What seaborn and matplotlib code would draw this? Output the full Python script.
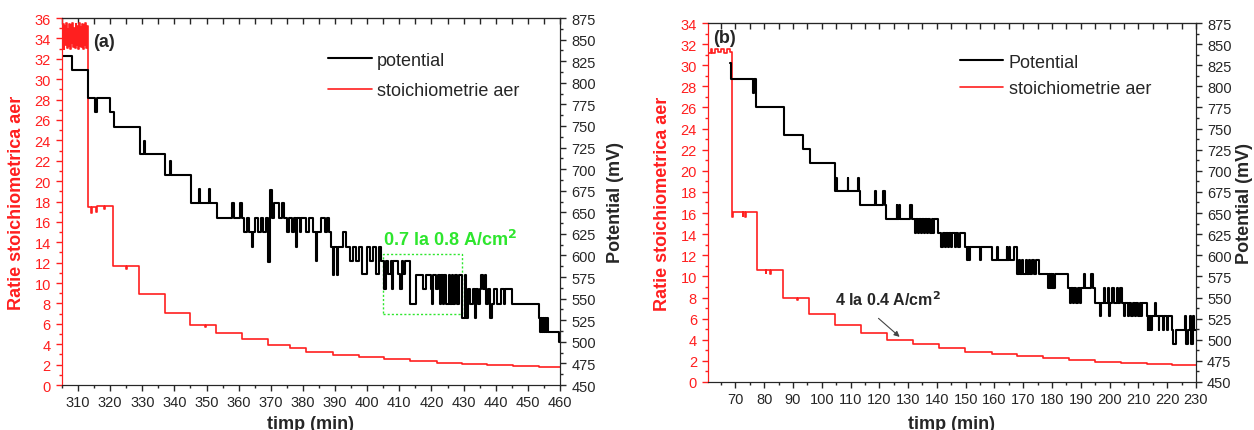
import pandas as pd
import seaborn as sns
import matplotlib.pyplot as plt
from matplotlib.lines import Line2D
from matplotlib.patches import Rectangle
from matplotlib.ticker import MultipleLocator

# ---- data (time in min, step values) ----
# panel (a): stoichiometry (left axis)
a_stoi = [(305.0, 33.2), (305.25, 35.4), (305.5, 33.0), (305.75, 35.2), (306.0, 33.4),
          (306.25, 35.5), (306.5, 33.1), (306.75, 34.9), (307.0, 33.3), (307.25, 35.4),
          (307.5, 33.0), (307.75, 35.3), (308.0, 33.5), (308.25, 35.5), (308.5, 33.2),
          (308.75, 35.0), (309.0, 33.1), (309.25, 35.4), (309.5, 33.4), (309.75, 35.2),
          (310.0, 33.0), (310.25, 35.5), (310.5, 33.3), (310.75, 35.1), (311.0, 33.2),
          (311.25, 35.4), (311.5, 33.0), (311.75, 35.3), (312.0, 33.4), (312.25, 35.5),
          (312.5, 33.1), (312.75, 35.2), (313.0, 17.5), (314.0, 16.9), (314.3, 17.5),
          (315.6, 17.0), (315.9, 17.6), (318.0, 17.3), (318.3, 17.6), (321.0, 11.7),
          (324.8, 11.4), (325.1, 11.7), (329.0, 8.9), (337.0, 7.1), (345.0, 5.9),
          (349.5, 5.7), (349.8, 5.9), (353.0, 5.1), (361.0, 4.5), (369.0, 3.9),
          (376.0, 3.6), (381.0, 3.2), (389.3, 2.97), (397.5, 2.75), (405.2, 2.52),
          (413.2, 2.36), (421.6, 2.2), (429.4, 2.06), (437.2, 1.96), (445.5, 1.86),
          (453.3, 1.77), (460.0, 1.77)]

# panel (a): potential in mV (right axis)
a_pot = [(305.0, 831), (308.0, 815), (313.0, 782), (315.4, 766), (315.8, 782), (320.0, 766),
         (321.3, 749), (329.2, 717), (330.5, 733), (330.9, 717), (337.0, 693), (338.6, 709),
         (339.0, 693), (345.3, 661), (347.6, 677), (348.0, 661), (350.7, 677), (351.1, 661),
         (353.2, 643), (358.0, 661), (358.4, 643), (360.5, 661), (360.9, 643), (361.7, 627),
         (362.5, 643), (363.2, 627), (364.0, 610), (364.5, 627), (365.2, 643), (366.0, 627),
         (366.8, 643), (367.6, 627), (368.5, 643), (369.2, 592), (369.8, 676), (370.3, 643),
         (371.0, 661), (372.5, 643), (373.5, 661), (374.2, 643), (375.0, 627), (375.6, 643),
         (376.5, 627), (377.2, 643), (377.8, 610), (378.2, 643), (379.0, 627), (379.5, 643),
         (381.0, 627), (382.0, 643), (383.0, 627), (384.0, 594), (384.4, 627), (385.5, 643),
         (386.8, 627), (387.5, 643), (388.0, 627), (388.8, 610), (389.3, 577), (389.8, 610),
         (390.5, 577), (391.0, 610), (392.4, 627), (393.5, 610), (394.5, 594), (395.5, 610),
         (396.5, 594), (397.3, 610), (398.5, 578), (400.0, 610), (401.0, 594), (401.8, 610),
         (402.8, 578), (403.6, 610), (404.4, 594), (405.3, 561), (405.7, 594), (406.5, 578),
         (407.3, 594), (407.6, 561), (408.0, 594), (409.5, 578), (410.3, 561), (410.8, 594),
         (411.2, 578), (411.8, 594), (413.3, 544), (415.3, 577), (417.5, 561), (418.3, 577),
         (420.0, 561), (420.3, 544), (420.6, 577), (421.5, 561), (422.0, 577), (422.5, 544),
         (423.0, 577), (423.6, 544), (424.0, 577), (424.6, 544), (425.3, 577), (425.7, 544),
         (426.3, 577), (426.8, 544), (427.2, 577), (428.0, 544), (428.6, 577), (429.4, 528),
         (430.3, 577), (430.7, 528), (431.5, 561), (432.0, 544), (432.8, 561), (433.4, 528),
         (433.9, 561), (434.5, 544), (435.0, 561), (435.5, 577), (435.9, 561), (436.5, 577),
         (437.0, 544), (437.6, 561), (438.2, 528), (438.8, 544), (439.5, 561), (440.5, 544),
         (441.5, 561), (442.5, 544), (443.0, 561), (445.0, 544), (453.4, 528), (453.7, 511),
         (454.0, 528), (454.3, 511), (454.6, 528), (454.9, 511), (455.2, 528), (455.5, 511),
         (455.8, 528), (456.1, 511), (459.8, 500), (460.0, 500)]

# panel (b): stoichiometry (left axis)
b_stoi = [(60.5, 31.2), (61.5, 31.5), (62.0, 31.2), (63.0, 31.5), (64.0, 31.3), (65.0, 31.5),
          (66.0, 31.2), (67.0, 31.5), (68.0, 31.3), (68.8, 16.1), (69.0, 15.6), (69.3, 16.1),
          (72.5, 15.7), (72.8, 16.1), (73.5, 15.6), (73.8, 16.1), (77.5, 10.6), (80.5, 10.3),
          (80.8, 10.6), (82.0, 10.2), (82.3, 10.6), (86.6, 8.0), (91.5, 7.8), (91.8, 8.0),
          (95.5, 6.4), (104.6, 5.4), (113.5, 5.2), (113.8, 4.6), (122.7, 4.0), (131.7, 3.6),
          (140.8, 3.2), (149.7, 2.87), (159.0, 2.62), (167.9, 2.43), (176.9, 2.24),
          (186.0, 2.08), (194.9, 1.92), (203.8, 1.8), (212.9, 1.7), (221.8, 1.6), (230.0, 1.6)]

# panel (b): potential in mV (right axis)
b_pot = [(68.0, 828), (68.6, 809), (76.2, 792), (76.6, 809), (77.3, 776), (86.8, 742),
         (93.4, 726), (95.9, 709), (104.6, 676), (105.1, 692), (105.4, 676), (109.0, 692),
         (109.3, 676), (112.5, 692), (112.8, 676), (113.4, 660), (118.4, 676), (118.7, 660),
         (121.4, 676), (121.9, 660), (122.4, 643), (126.0, 660), (126.3, 643), (126.9, 660),
         (127.2, 643), (130.5, 660), (131.2, 643), (132.3, 626), (132.7, 643), (133.3, 626),
         (133.7, 643), (134.4, 626), (134.8, 643), (135.5, 626), (135.9, 643), (136.6, 626),
         (137.0, 643), (137.6, 626), (138.2, 643), (138.5, 626), (139.0, 643), (140.5, 626),
         (141.6, 610), (142.0, 626), (142.7, 610), (143.1, 626), (143.8, 610), (144.2, 626),
         (145.0, 610), (145.4, 626), (146.2, 610), (146.6, 626), (147.5, 610), (148.0, 626),
         (149.8, 610), (150.3, 594), (150.8, 610), (151.2, 594), (151.5, 610), (155.0, 594),
         (155.3, 610), (159.0, 594), (160.8, 610), (161.1, 594), (164.2, 610), (164.5, 594),
         (165.0, 610), (165.3, 594), (166.8, 610), (167.7, 578), (168.5, 594), (169.0, 578),
         (169.6, 594), (170.0, 578), (170.8, 594), (171.3, 578), (172.0, 594), (172.4, 578),
         (173.2, 594), (173.6, 578), (174.4, 594), (175.5, 578), (178.7, 561), (179.0, 578),
         (179.3, 561), (179.6, 578), (179.9, 561), (180.2, 578), (180.5, 561), (181.0, 578),
         (185.7, 561), (186.2, 544), (186.5, 561), (187.3, 544), (187.7, 561), (188.5, 544),
         (188.9, 561), (189.6, 544), (190.0, 561), (191.0, 578), (191.4, 561), (193.6, 578),
         (194.1, 561), (195.0, 544), (196.5, 528), (197.0, 544), (198.0, 561), (198.5, 544),
         (199.5, 561), (199.8, 528), (200.2, 544), (201.0, 561), (201.5, 544), (202.5, 561),
         (203.0, 544), (203.5, 561), (204.2, 544), (205.0, 528), (205.5, 544), (206.3, 528),
         (206.8, 544), (207.5, 528), (208.0, 544), (208.8, 528), (209.3, 544), (210.0, 528),
         (210.5, 544), (211.0, 528), (211.4, 544), (212.9, 528), (213.2, 511), (213.5, 528),
         (213.8, 511), (214.1, 528), (214.4, 511), (214.8, 528), (215.8, 544), (216.2, 528),
         (217.0, 511), (217.3, 528), (218.5, 511), (218.8, 528), (220.0, 511), (220.3, 528),
         (221.6, 511), (222.2, 495), (223.0, 511), (226.3, 528), (226.7, 495), (227.2, 511),
         (228.0, 528), (228.3, 495), (229.0, 528), (229.3, 511), (230.0, 511)]

RED = '#ff1f1f'
GREEN = '#2ee62e'

sns.set_style('ticks')
plt.rcParams['font.family'] = ['Liberation Sans', 'DejaVu Sans']


def panel(fig, rect, stoi, pot, xlim, ylim, pot_label, leg_xy, leg_gap, rpad, xpad):
    ax = fig.add_axes(rect)
    ax2 = ax.twinx()

    df_s = pd.DataFrame(stoi, columns=['t', 'v'])
    df_p = pd.DataFrame(pot, columns=['t', 'v'])
    sns.lineplot(data=df_s, x='t', y='v', ax=ax, color=RED, lw=1.2,
                 drawstyle='steps-post', estimator=None)
    sns.lineplot(data=df_p, x='t', y='v', ax=ax2, color='black', lw=1.5,
                 drawstyle='steps-post', estimator=None)

    ax.set_xlim(xlim)
    ax.set_ylim(ylim)
    ax2.set_ylim(450, 875)

    ax.xaxis.set_major_locator(MultipleLocator(10))
    ax.xaxis.set_minor_locator(MultipleLocator(5))
    ax.yaxis.set_major_locator(MultipleLocator(2))
    ax.yaxis.set_minor_locator(MultipleLocator(1))
    ax2.yaxis.set_major_locator(MultipleLocator(25))
    ax2.yaxis.set_minor_locator(MultipleLocator(12.5))

    ax.tick_params(axis='x', which='both', direction='out', labelsize=10.5, pad=3)
    ax.tick_params(axis='y', which='both', direction='out', colors=RED, labelsize=10.5)
    ax2.tick_params(axis='y', which='both', direction='out', labelsize=10.5)
    for a in (ax, ax2):
        a.tick_params(which='major', length=4.5, width=1)
        a.tick_params(which='minor', length=2.5, width=1)
    ax.spines['left'].set_color(RED)
    ax2.spines['left'].set_color(RED)

    top = ax.secondary_xaxis('top')
    top.xaxis.set_major_locator(MultipleLocator(10))
    top.xaxis.set_minor_locator(MultipleLocator(5))
    top.tick_params(which='both', direction='in', labeltop=False, length=4, width=1)

    ax.set_xlabel('timp (min)', fontsize=13, fontweight='bold', labelpad=xpad)
    ax.set_ylabel('Ratie stoichiometrica aer', fontsize=13, fontweight='bold',
                  color=RED, labelpad=7)
    ax2.set_ylabel('Potential (mV)', fontsize=13, fontweight='bold', labelpad=rpad)

    handles = [Line2D([], [], color='black', lw=1.5), Line2D([], [], color=RED, lw=1.2)]
    ax2.legend(handles, [pot_label, 'stoichiometrie aer'], loc='upper left',
               bbox_to_anchor=leg_xy, frameon=False, fontsize=13, handlelength=2.4,
               handletextpad=0.3, labelspacing=leg_gap, borderpad=0, borderaxespad=0)
    return ax, ax2


fig = plt.figure(figsize=(12.54, 4.31), dpi=100)

ax_a, ax_a2 = panel(fig, [0.0494, 0.1044, 0.3972, 0.8515], a_stoi, a_pot,
                    (305, 460), (0, 36), 'potential', (0.535, 0.908), 0.75, 8, 4)
ax_a.text(0.062, 0.937, '(a)', transform=ax_a.transAxes, fontsize=13,
          fontweight='bold', va='center')
ax_a2.add_patch(Rectangle((405, 532), 24.5, 70, fill=False, ec=GREEN,
                          lw=1, ls=(0, (1.5, 1.5))))
ax_a2.text(405, 607, r'0.7 la 0.8 A/cm$^\mathbf{2}$', color=GREEN, fontsize=13,
           fontweight='bold', va='bottom', ha='left')

ax_b, ax_b2 = panel(fig, [0.5646, 0.1114, 0.3891, 0.8329], b_stoi, b_pot,
                    (60.5, 230), (0, 34), 'Potential', (0.516, 0.915), 0.55, 3, 6)
ax_b.text(0.01, 0.961, '(b)', transform=ax_b.transAxes, fontsize=13,
          fontweight='bold', va='center')
ax_b.annotate('', xy=(127.8, 4.1), xytext=(119, 6.2),
              arrowprops=dict(arrowstyle='-|>', color='#444444', lw=0.8,
                              mutation_scale=8))
ax_b.text(123, 7.9, r'4 la 0.4 A/cm$^\mathbf{2}$', fontsize=11.5, fontweight='bold',
          ha='center', va='center')

fig.savefig('out.png', dpi=100)
